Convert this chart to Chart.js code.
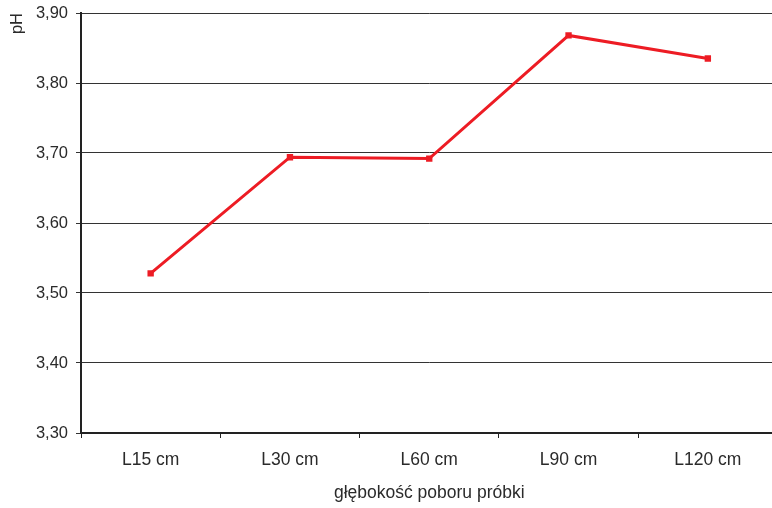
<!DOCTYPE html>
<html>
<head>
<meta charset="utf-8">
<script src="https://cdn.jsdelivr.net/npm/chart.js@4"></script>
<style>
html,body{margin:0;padding:0;background:#fff;overflow:hidden;width:772px;height:508px;}
#c{position:absolute;left:0;top:0;}
</style>
</head>
<body>
<canvas id="c" width="782" height="508"></canvas>
<script>
const categories = ["L15 cm", "L30 cm", "L60 cm", "L90 cm", "L120 cm"];
const phValues = [3.528, 3.694, 3.692, 3.868, 3.835];
const yMin = 3.30, yMax = 3.90, yStep = 0.10;
const xTitle = "głębokość poboru próbki";
const yTitle = "pH";

const fam = "'Liberation Sans', Arial, sans-serif";
const txt = '#2a2a2a';
new Chart(document.getElementById('c'), {
  type: 'line',
  data: {
    labels: categories,
    datasets: [{
      data: phValues,
      borderColor: '#ED1C24',
      backgroundColor: '#ED1C24',
      borderWidth: 3,
      pointStyle: 'rect',
      pointRadius: 4.5,
      pointBorderWidth: 0,
      tension: 0,
      fill: false
    }]
  },
  options: {
    responsive: false,
    animation: false,
    devicePixelRatio: 1,
    layout: {padding: {top: 13, right: 1, left: 0, bottom: 0}},
    plugins: {legend: {display: false}, tooltip: {enabled: false}},
    scales: {
      x: {
        offset: true,
        grid: {offset: true, drawOnChartArea: false, drawTicks: true, tickLength: 5, color: '#222', lineWidth: 1},
        border: {color: '#222', width: 2},
        ticks: {font: {family: fam, size: 17.5}, color: txt, padding: 12, maxRotation: 0},
        title: {display: true, text: xTitle, font: {family: fam, size: 17.5}, color: txt, padding: {top: 0, bottom: 4}},
        afterFit: s => { s.height = 75; s.paddingLeft = 0; s.paddingRight = 0; }
      },
      y: {
        min: yMin, max: yMax,
        grid: {color: '#333', lineWidth: 1, drawTicks: true, tickLength: 5},
        border: {color: '#222', width: 2},
        ticks: {stepSize: yStep, font: {family: fam, size: 16.5}, color: txt, padding: 8,
          callback: v => Number(v).toFixed(2).replace('.', ',')},
        title: {display: true, text: yTitle, font: {family: fam, size: 16.5}, color: txt, align: 'end', padding: {top: 8, bottom: 0}},
        afterFit: s => { s.width = 81; s.paddingTop = 0; s.paddingBottom = 0; }
      }
    }
  }
});
</script>
</body>
</html>
